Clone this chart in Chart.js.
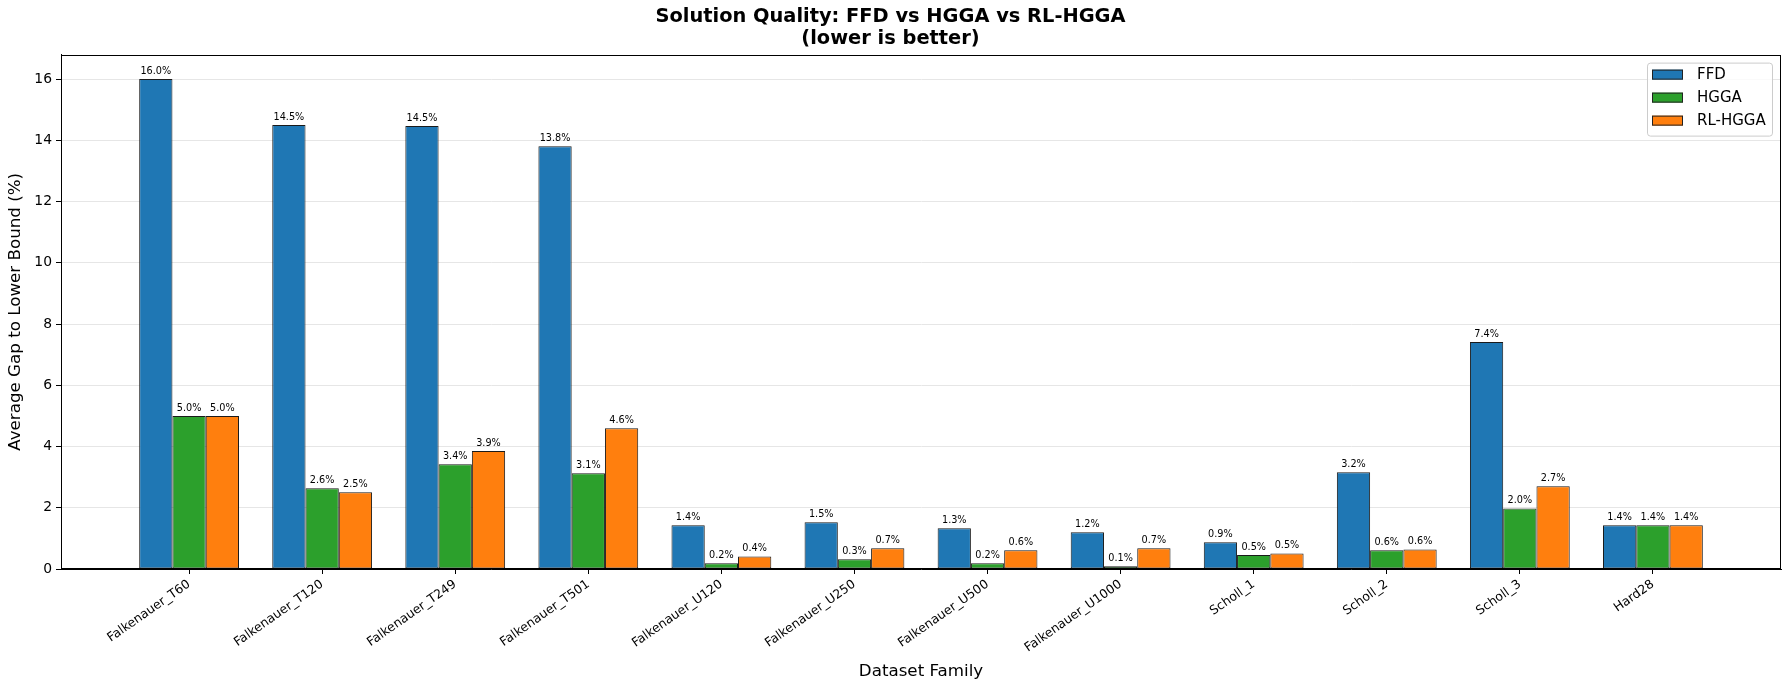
<!DOCTYPE html>
<html>
<head>
<meta charset="utf-8">
<script src="https://cdn.jsdelivr.net/npm/chart.js@4.4.1/dist/chart.umd.min.js"></script>
<style>
  body { margin: 0; background: #fff; }
  #wrap { width: 1790px; height: 690px; }
</style>
</head>
<body>
<div id="wrap"><canvas id="qualityChart" width="1790" height="690"></canvas></div>
<script>
// ===== DATA =====
const families = [
  "Falkenauer_T60", "Falkenauer_T120", "Falkenauer_T249", "Falkenauer_T501",
  "Falkenauer_U120", "Falkenauer_U250", "Falkenauer_U500", "Falkenauer_U1000",
  "Scholl_1", "Scholl_2", "Scholl_3", "Hard28"
];
const ffdGap   = [16.0, 14.5, 14.47, 13.81, 1.43, 1.53, 1.33, 1.20, 0.87, 3.16, 7.41, 1.43];
const hggaGap  = [5.0, 2.64, 3.42, 3.13, 0.19, 0.32, 0.19, 0.09, 0.46, 0.61, 1.98, 1.43];
const rlHggaGap = [5.0, 2.51, 3.85, 4.60, 0.41, 0.68, 0.61, 0.68, 0.51, 0.64, 2.70, 1.43];
const yTicks = [0, 2, 4, 6, 8, 10, 12, 14, 16];

const FONT = "'DejaVu Sans', sans-serif";

function toPoints(arr) {
  return arr.map((v, i) => ({ x: i, y: v }));
}

// ===== PLUGINS =====
const barLabels = {
  id: "barLabels",
  afterDatasetsDraw(chart) {
    const ctx = chart.ctx;
    ctx.save();
    ctx.font = "9.7px " + FONT;
    ctx.fillStyle = "#000";
    ctx.textAlign = "center";
    ctx.textBaseline = "alphabetic";
    chart.data.datasets.forEach((ds, di) => {
      chart.getDatasetMeta(di).data.forEach((bar, i) => {
        ctx.fillText(ds.data[i].y.toFixed(1) + "%", bar.x, bar.y - 5);
      });
    });
    ctx.restore();
  }
};

const frameAndLegend = {
  id: "frameAndLegend",
  afterDraw(chart) {
    const ctx = chart.ctx;
    const a = chart.chartArea;
    ctx.save();
    // axes frame
    ctx.strokeStyle = "#000";
    ctx.lineWidth = 1;
    ctx.strokeRect(Math.round(a.left) + 0.5, Math.round(a.top) + 0.5,
      Math.round(a.right - a.left) - 1, Math.round(a.bottom - a.top) - 1);

    // legend box
    const w = 125, h = 73;
    const bx = a.right - 9 - w, by = a.top + 8;
    ctx.fillStyle = "rgba(255,255,255,0.8)";
    ctx.strokeStyle = "#cccccc";
    ctx.lineWidth = 1;
    ctx.beginPath();
    ctx.roundRect(bx + 0.5, by + 0.5, w, h, 3);
    ctx.fill();
    ctx.stroke();

    ctx.font = "15px " + FONT;
    ctx.textBaseline = "middle";
    ctx.textAlign = "left";
    chart.data.datasets.forEach((ds, i) => {
      const cy = by + 12 + i * 23;
      ctx.fillStyle = ds.backgroundColor;
      ctx.fillRect(bx + 5, cy - 5, 31, 10);
      ctx.strokeStyle = "#222";
      ctx.strokeRect(bx + 5.5, cy - 4.5, 30, 9);
      ctx.fillStyle = "#000";
      ctx.fillText(ds.label, bx + 50, cy);
    });
    ctx.restore();
  }
};

// ===== CHART =====
const ctx = document.getElementById("qualityChart").getContext("2d");
new Chart(ctx, {
  type: "bar",
  data: {
    datasets: [
      { label: "FFD", data: toPoints(ffdGap), backgroundColor: "#1f77b4" },
      { label: "HGGA", data: toPoints(hggaGap), backgroundColor: "#2ca02c" },
      { label: "RL-HGGA", data: toPoints(rlHggaGap), backgroundColor: "#ff7f0e" }
    ]
  },
  options: {
    responsive: false,
    animation: false,
    layout: { padding: { left: 0, right: 9, top: 0, bottom: 0 } },
    datasets: {
      bar: {
        categoryPercentage: 0.75,
        barPercentage: 1.0,
        borderColor: "#1a1a1a",
        borderWidth: 1,
        borderSkipped: false
      }
    },
    plugins: {
      legend: { display: false },
      tooltip: { enabled: false },
      title: {
        display: true,
        text: ["Solution Quality: FFD vs HGGA vs RL-HGGA", "(lower is better)"],
        color: "#000",
        font: { family: FONT, size: 19.4, weight: "bold", lineHeight: 1.15 },
        padding: { top: 6, bottom: 4 }
      }
    },
    scales: {
      x: {
        type: "linear",
        offset: false,
        min: -0.9625,
        max: families.length - 1 + 0.9625,
        afterBuildTicks: s => { s.ticks = families.map((f, i) => ({ value: i })); },
        afterFit: s => { s.height = 121; },
        grid: { offset: false, drawOnChartArea: false, drawTicks: true, tickLength: 5, tickColor: "#000" },
        border: { color: "#000" },
        ticks: {
          autoSkip: false,
          maxRotation: 35,
          minRotation: 35,
          padding: 3,
          color: "#000",
          font: { family: FONT, size: 12.5 },
          callback: v => families[v]
        },
        title: {
          display: true,
          text: "Dataset Family",
          color: "#000",
          font: { family: FONT, size: 16.7 },
          padding: { top: 0, bottom: 8 }
        }
      },
      y: {
        min: 0,
        max: 16.8,
        afterBuildTicks: s => { s.ticks = yTicks.map(v => ({ value: v })); },
        afterFit: s => { s.width = 61; },
        grid: { color: "#e6e6e6", tickColor: "#000", tickLength: 5 },
        border: { color: "#000" },
        ticks: {
          padding: 4,
          color: "#000",
          font: { family: FONT, size: 13.9 }
        },
        title: {
          display: true,
          text: "Average Gap to Lower Bound (%)",
          color: "#000",
          font: { family: FONT, size: 16.7 },
          padding: { top: 6, bottom: 0 }
        }
      }
    }
  },
  plugins: [barLabels, frameAndLegend]
});
</script>
</body>
</html>
